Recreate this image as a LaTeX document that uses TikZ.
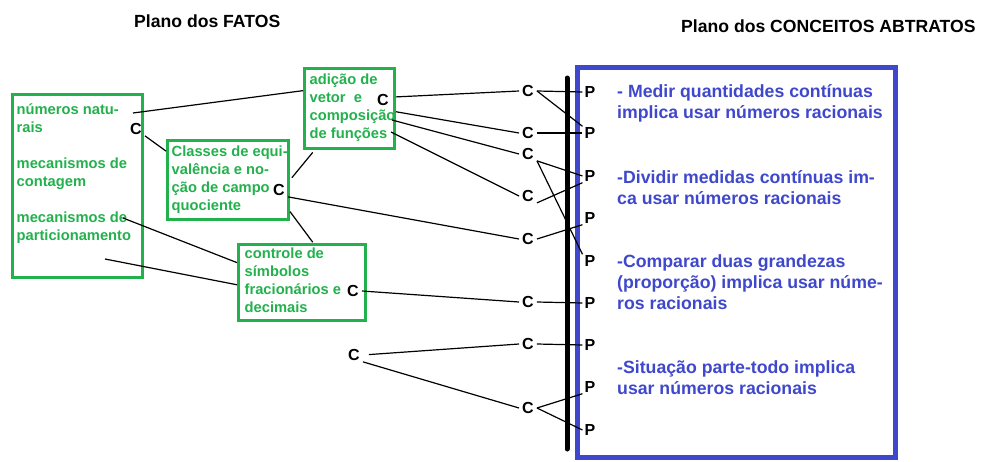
\documentclass[tikz,border=0pt]{standalone}
\usepackage{fontspec}
\setmainfont{Liberation Sans}
\definecolor{fgreen}{RGB}{34,177,76}
\definecolor{cblue}{RGB}{63,72,204}
\begin{document}
\begin{tikzpicture}[x=1pt,y=-1pt,
  gbox/.style={draw=fgreen, line width=3pt, inner sep=0pt, anchor=north west},
  % multi-line text nodes are placed by the baseline of their last line
  gtext/.style={text=fgreen, font=\fontsize{14.7}{18}\selectfont\bfseries, align=left, anchor=base west, inner sep=0pt},
  btext/.style={text=cblue, font=\fontsize{17.7}{21}\selectfont\bfseries, align=left, anchor=base west, inner sep=0pt},
  cnode/.style={font=\fontsize{16}{16}\selectfont\bfseries, inner xsep=3pt, inner ysep=1pt},
  pnode/.style={font=\fontsize{16}{16}\selectfont\bfseries, inner xsep=2pt, inner ysep=1pt},
  link/.style={draw=black, line width=1.2pt},
  head/.style={font=\fontsize{17.6}{20}\selectfont\bfseries, anchor=base west, inner sep=0pt}]

\useasboundingbox[fill=white] (0,0) rectangle (984,461);

% headings
\node[head] (hfatos) at (134,27) {Plano dos FATOS};
\node[head] (hconc) at (681,32) {Plano dos CONCEITOS ABTRATOS};

% plane of facts: green boxes
\node[gbox, minimum width=130pt, minimum height=183pt] (lbox) at (11,93) {};
\node[gbox, minimum width=121pt, minimum height=79pt] (cbox) at (166,139) {};
\node[gbox, minimum width=90pt, minimum height=80pt] (abox) at (303,67) {};
\node[gbox, minimum width=127pt, minimum height=76pt] (kbox) at (237,243) {};

\node[gtext] (ltext) at (16.5,240) {números natu-\\rais\\[18pt]mecanismos de\\contagem\\[18pt]mecanismos de\\particionamento};
\node[gtext] (ctext) at (171.5,210) {Classes de equi-\\valência e no-\\ção de campo\\quociente};
\node[gtext] (atext) at (309.5,138.5) {adição de\\vetor\ \ e\\composição\\de funções};
\node[gtext] (ktext) at (244.5,312) {controle de\\símbolos\\fracionários e\\decimais};

\node[cnode] (cL) at (136,129) {C};
\node[cnode] (cC) at (279,190) {C};
\node[cnode] (aC) at (383,100) {C};
\node[cnode] (kC) at (353,291) {C};
\node[cnode] (fC) at (354,355) {C};

% middle column of concepts
\node[cnode] (c1) at (528,91) {C};
\node[cnode] (c2) at (528,133) {C};
\node[cnode] (c3) at (528,154) {C};
\node[cnode] (c4) at (528,196) {C};
\node[cnode] (c5) at (528,239) {C};
\node[cnode] (c6) at (528,302) {C};
\node[cnode] (c7) at (528,344) {C};
\node[cnode] (c8) at (528,408) {C};

% dividing bar
\coordinate (bartop) at (567,78);
\coordinate (barbot) at (567,449);
\draw[line width=5pt, line cap=round] (bartop) -- (barbot);

% plane of abstract concepts
\node[draw=cblue, line width=5pt, inner sep=0pt, anchor=north west,
      minimum width=318pt, minimum height=390pt] (pbox) at (575,65) {};

\node[pnode] (p1) at (590,92) {P};
\node[pnode] (p2) at (590,133) {P};
\node[pnode] (p3) at (590,176) {P};
\node[pnode] (p4) at (590,218) {P};
\node[pnode] (p5) at (590,261) {P};
\node[pnode] (p6) at (590,303) {P};
\node[pnode] (p7) at (590,345) {P};
\node[pnode] (p8) at (590,387) {P};
\node[pnode] (p9) at (590,430) {P};

\node[btext] (b1) at (617,118.5) {- Medir quantidades contínuas\\implica usar números racionais};
\node[btext] (b2) at (617,204) {-Dividir medidas contínuas im-\\ca usar números racionais};
\node[btext] (b3) at (617,309) {-Comparar duas grandezas\\(proporção) implica usar núme-\\ros racionais};
\node[btext] (b4) at (617,394) {-Situação parte-todo implica\\usar números racionais};

% loose ends inside the boxes
\coordinate (l1) at (133,113);
\coordinate (l6) at (123,218);
\coordinate (l7) at (105,259);
\coordinate (a10) at (392,120);
\coordinate (a11) at (391,132);

% links between facts
\draw[link] (l1) -- (abox.159);
\draw[link] (cL.south east) -- (cbox.155);
\draw[link, shorten <=3pt, shorten >=3pt] (cbox.east) -- (abox.230);
\draw[link] (cC.south east) -- (c5.west);
\draw[link, shorten >=1pt] (cbox.-27) -- (kbox.74);
\draw[link] (l6) -- (kbox.163);
\draw[link] (l7) -- (kbox.182);

% links from facts to concepts
\draw[link] (abox.14) -- (c1.west);
\draw[link] (abox.-4) -- (c2.west);
\draw[link] (a10) -- (c3.west);
\draw[link] (a11) -- (c4.west);
\draw[link] (kC.east) -- (c6.west);
\draw[link, shorten <=6pt] (fC.east) -- (c7.west);
\draw[link] (fC.south east) -- (c8.west);

% links from concepts to propositions
\draw[link] (c1.east) -- (p1.west);
\draw[link] (c1.east) -- (p2.north west);
\draw[link] (c2.east) -- (p2.west);
\draw[link] (c3.south east) -- (p3.west);
\draw[link] (c3.south east) -- (p5.north west);
\draw[link] (c4.south east) -- (p3.south west);
\draw[link] (c5.east) -- (p4.south west);
\draw[link] (c6.east) -- (p6.west);
\draw[link] (c7.east) -- (p7.west);
\draw[link] (c8.east) -- (p8.south west);
\draw[link] (c8.east) -- (p9.west);
\end{tikzpicture}
\end{document}
